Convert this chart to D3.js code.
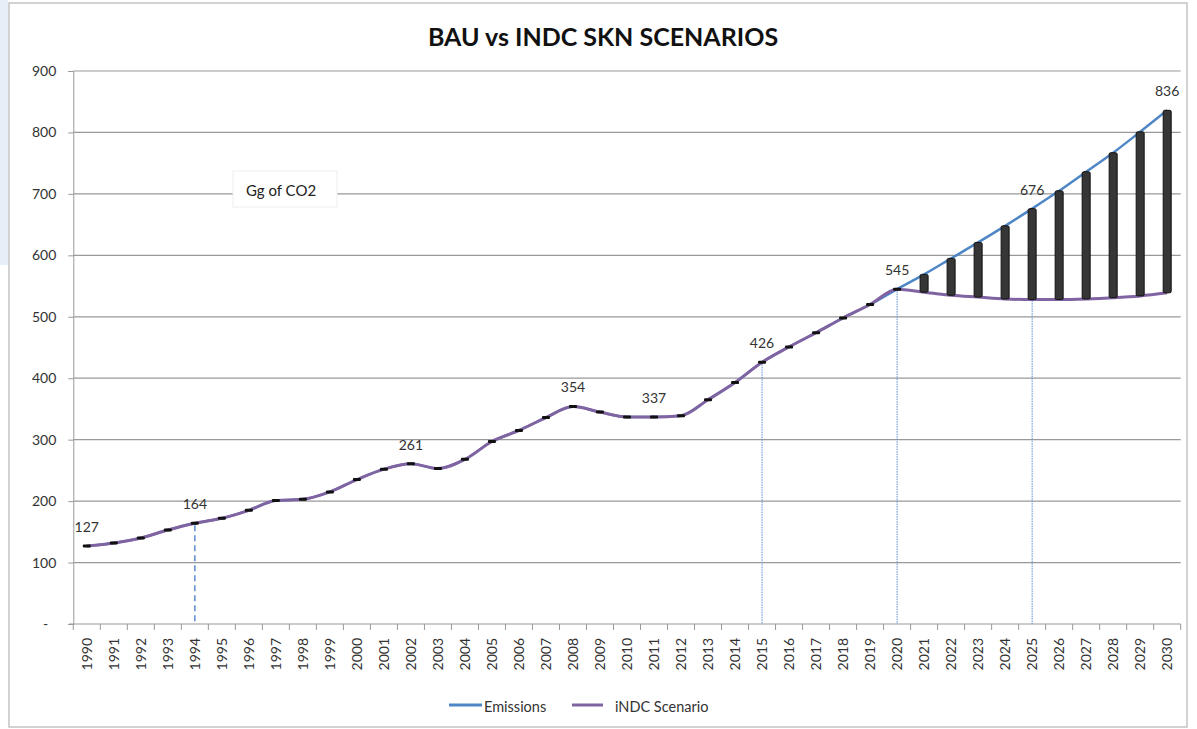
<!DOCTYPE html>
<html>
<head>
<meta charset="utf-8">
<script src="https://cdn.jsdelivr.net/npm/d3@7"></script>
<style>
  body { margin: 0; background: #fff; }
  text { font-family: Lato, "Open Sans", sans-serif; fill: #222; }
</style>
</head>
<body>
<svg id="chart" width="1197" height="729"></svg>
<script>
// data
const years = d3.range(1990, 2031);
const emissions = [127, 132, 140, 153, 164, 172, 185, 201, 203, 215, 235, 252, 261, 253, 268,
  297, 315, 336, 354, 345, 337, 337, 339, 365, 393, 426, 451, 474, 498, 520, 545,
  569, 595, 621, 648, 676, 705, 736, 767, 801, 836];
const indc = [127, 132, 140, 153, 164, 172, 185, 201, 203, 215, 235, 252, 261, 253, 268,
  297, 315, 336, 354, 345, 337, 337, 339, 365, 393, 426, 451, 474, 498, 520, 545,
  540, 535, 532, 529, 528, 528, 529, 531, 534, 539];
const yTicks = [0, 100, 200, 300, 400, 500, 600, 700, 800, 900];
const labelYears = [1990, 1994, 2002, 2008, 2011, 2015, 2020, 2025, 2030];
const dropYears = [1994, 2015, 2020, 2025];
const splitYear = 2020;
const seriesNames = ["Emissions", "iNDC Scenario"];

const svg = d3.select("#chart");

// frame
svg.append("rect").attr("x", 0).attr("y", 0).attr("width", 8).attr("height", 265)
  .attr("fill", "#e6eef7");
svg.append("rect").attr("x", 9).attr("y", 3).attr("width", 1178).attr("height", 724)
  .attr("fill", "#fff").attr("stroke", "#c4c4c4").attr("stroke-width", 1.5);

const x = d3.scaleBand().domain(years).range([73.3, 1180.7]).padding(0);
const y = d3.scaleLinear().domain([0, 900]).range([624, 71]);
const cx = (yr) => x(yr) + x.bandwidth() / 2;

// title
svg.append("text").attr("x", 603).attr("y", 46).attr("text-anchor", "middle")
  .style("font-weight", "bold").style("font-size", "25px").style("fill", "#111")
  .text("BAU vs INDC SKN SCENARIOS");

// y grid + axis
const yAxis = svg.append("g").attr("transform", "translate(73.3,0)")
  .call(d3.axisLeft(y).tickValues(yTicks).tickSize(5).tickPadding(12)
    .tickFormat((d) => (d === 0 ? "-" : d)));
yAxis.select(".domain").attr("stroke", "#999");
yAxis.selectAll(".tick line").attr("stroke", "#999");
yAxis.selectAll(".tick text").style("font-size", "14px").style("fill", "#333")
  .attr("dx", (d) => (d === 0 ? -8 : 0));
svg.append("g").selectAll("line").data(yTicks.filter((d) => d > 0)).join("line")
  .attr("x1", 73.3).attr("x2", 1180.7)
  .attr("y1", (d) => y(d)).attr("y2", (d) => y(d))
  .attr("stroke", "#999").attr("stroke-width", 1.2);

// x axis
svg.append("line").attr("x1", 69).attr("x2", 1180.7).attr("y1", y(0)).attr("y2", y(0))
  .attr("stroke", "#999").attr("stroke-width", 1.2);
svg.append("g").selectAll("line").data(years.concat([2031])).join("line")
  .attr("x1", (d) => (d === 2031 ? x.range()[1] : x(d)))
  .attr("x2", (d) => (d === 2031 ? x.range()[1] : x(d)))
  .attr("y1", y(0)).attr("y2", y(0) + 6).attr("stroke", "#999");
svg.append("g").selectAll("text").data(years).join("text")
  .attr("transform", (d) => `translate(${cx(d) + 5},638) rotate(-90)`)
  .attr("text-anchor", "end").style("font-size", "14px").style("fill", "#333")
  .text((d) => d);

// drop lines
svg.append("g").selectAll("line").data(dropYears).join("line")
  .attr("x1", (d) => cx(d)).attr("x2", (d) => cx(d))
  .attr("y1", (d) => y(emissions[years.indexOf(d)]) + 2).attr("y2", y(0))
  .attr("stroke", "#5b8bd0")
  .attr("stroke-width", (d, i) => (i === 0 ? 1.5 : 1))
  .attr("stroke-dasharray", (d, i) => (i === 0 ? "6,4" : "1.5,1"));

// lines
const line = d3.line().x((d, i) => cx(years[i])).y((d) => y(d))
  .curve(d3.curveMonotoneX);
svg.append("path").datum(emissions).attr("d", line).attr("fill", "none")
  .attr("stroke", "#4f86c6").attr("stroke-width", 2.5);
svg.append("path").datum(indc).attr("d", line).attr("fill", "none")
  .attr("stroke", "#8064a2").attr("stroke-width", 3);

// markers up to 2020
const early = years.filter((yr) => yr <= splitYear);
svg.append("g").selectAll("rect").data(early).join("rect")
  .attr("x", (d) => cx(d) - 4).attr("y", (d, i) => y(indc[i]) - 1.5)
  .attr("width", 8).attr("height", 3).attr("rx", 1).attr("fill", "#111");

// high-low bars after 2020
const late = years.filter((yr) => yr > splitYear);
svg.append("g").selectAll("rect").data(late).join("rect")
  .attr("x", (d) => cx(d) - 4)
  .attr("y", (d) => y(emissions[years.indexOf(d)]))
  .attr("width", 8)
  .attr("height", (d) => y(indc[years.indexOf(d)]) - y(emissions[years.indexOf(d)]))
  .attr("rx", 1.5).attr("fill", "#363636").attr("stroke", "#111").attr("stroke-width", 1);

// data labels
svg.append("g").selectAll("text").data(labelYears).join("text")
  .attr("x", (d) => cx(d)).attr("y", (d) => y(emissions[years.indexOf(d)]) - 14)
  .attr("text-anchor", "middle").style("font-size", "14px").style("fill", "#333")
  .text((d) => emissions[years.indexOf(d)]);

// unit box
svg.append("rect").attr("x", 233).attr("y", 171).attr("width", 104).attr("height", 36)
  .attr("fill", "#fff").attr("stroke", "#eee");
svg.append("text").attr("x", 246).attr("y", 196).style("font-size", "15px")
  .style("fill", "#222").text("Gg of CO2");

// legend
const legend = svg.append("g");
const legendItems = [
  { name: seriesNames[0], color: "#4f86c6", x1: 449, x2: 482, tx: 484 },
  { name: seriesNames[1], color: "#8064a2", x1: 572, x2: 603, tx: 615 },
];
legend.selectAll("line").data(legendItems).join("line")
  .attr("x1", (d) => d.x1).attr("x2", (d) => d.x2).attr("y1", 705).attr("y2", 705)
  .attr("stroke", (d) => d.color).attr("stroke-width", 3);
legend.selectAll("text").data(legendItems).join("text")
  .attr("x", (d) => d.tx).attr("y", 712).style("font-size", "14.5px").style("fill", "#333")
  .text((d) => d.name);
</script>
</body>
</html>
